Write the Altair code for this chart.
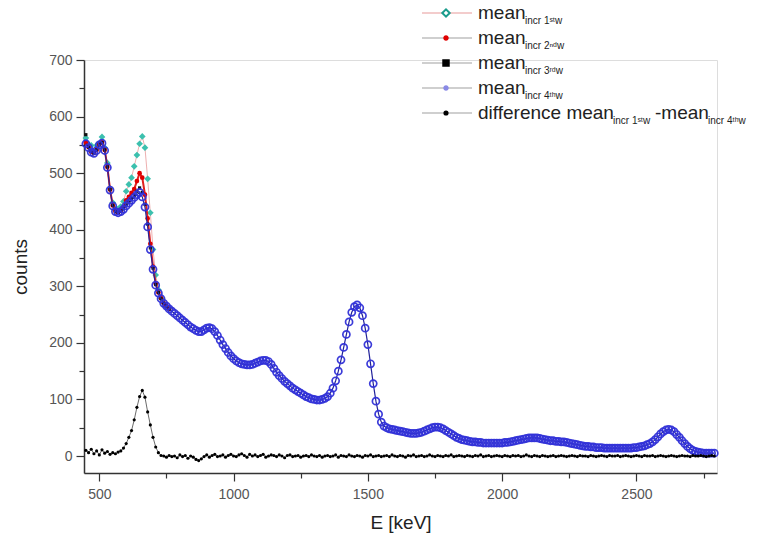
import altair as alt
import pandas as pd

# ---------------- data ----------------
E_all = list(range(450, 2800, 10))

mean4 = [
    552, 545, 537, 535, 540, 550, 553, 540, 510, 470,
    442, 432, 430, 432, 436, 442, 447, 452, 457, 462,
    466, 458, 440, 405, 365, 330, 302, 288, 278, 270,
    265, 260, 256, 252, 248, 244, 240, 236, 232, 228,
    225, 222, 220, 220, 223, 226, 227, 225, 220, 213,
    205, 197, 190, 183, 177, 172, 168, 165, 163, 162,
    161, 161, 162, 164, 166, 168, 169, 169, 167, 162,
    155, 148, 142, 137, 132, 128, 124, 120, 117, 114,
    111, 108, 105, 103, 101, 100, 99, 99, 100, 102,
    105, 111, 120, 133, 150, 170, 192, 215, 237, 254,
    264, 267, 262, 248, 226, 197, 163, 128, 97, 74,
    60, 53, 50, 48, 47, 46, 45, 44, 43, 42,
    41, 40, 40, 40, 41, 42, 44, 46, 48, 50,
    51, 51, 50, 48, 45, 42, 39, 36, 33, 31,
    29, 28, 27, 26, 25, 25, 24, 24, 23, 23,
    23, 23, 23, 23, 23, 23, 24, 24, 25, 26,
    27, 28, 29, 30, 31, 32, 32, 32, 32, 31,
    30, 29, 28, 27, 27, 26, 26, 25, 25, 24,
    23, 22, 21, 20, 19, 18, 17, 17, 16, 16,
    15, 15, 15, 14, 14, 14, 14, 14, 14, 14,
    14, 14, 14, 14, 15, 15, 16, 17, 18, 20,
    22, 25, 29, 34, 39, 43, 46, 47, 46, 43,
    38, 33, 27, 22, 17, 13, 10, 8, 7, 6,
    5, 5, 5, 5, 5,
]

difference = [
    10, 6, 12, 4, 9, 2, 11, 5, 8, 3,
    6, 4, 7, 9, 14, 22, 33, 45, 64, 86,
    105, 116, 104, 78, 55, 33, 16, 6, 1, 0,
    -2, 1, -1, 0, -3, 2, -1, 1, -4, 0,
    -2, -6, -8, -5, -1, 2, -2, 1, 3, -1,
    0, 2, -2, 1, 3, 0, -1, 2, 4, 1,
    -2, 3, 0, 2, -1, 1, 3, -2, 0, 2,
    1, -1, 2, 0, -3, 1, 2, -1, 0, 1,
    -2, 0, 1, -1, 2, 0, -1, 1, -2, 0,
    1, -1, 0, 2, -2, 1, 0, -1, 2, 0,
    -1, 1, 0, -2, 1, 0, 2, -1, 0, 1,
    -1, 0, 1, -1, 2, 0, -1, 1, 0, -2,
    1, 0, 2, -1, 0, 1, -1, 0, 2, 0,
    -1, 1, 0, -1, 1, 0, 2, -1, 0, 1,
    0, -1, 1, 0, -1, 1, 0, 2, -1, 0,
    1, -1, 0, 1, 0, -1, 1, 0, -1, 1,
    0, 1, -1, 0, 2, 0, -1, 1, 0, -1,
    1, 0, -1, 0, 1, -1, 0, 1, 0, -1,
    0, 1, 0, -1, 1, 0, 0, -1, 1, 0,
    -1, 0, 1, 0, -1, 1, 0, 0, 1, -1,
    0, 1, 0, -1, 0, 1, 0, -1, 1, 0,
    0, 1, -1, 0, 1, 0, -1, 0, 1, 0,
    -1, 0, 1, 0, 0, -1, 1, 0, 0, 1,
    0, -1, 0, 1, 0,
]

E_low = list(range(450, 770, 10))
mean1 = [
    562, 551, 549, 539, 549, 552, 564, 545, 518, 473,
    448, 436, 437, 441, 450, 468, 480, 492, 512, 532,
    552, 565, 545, 490, 430, 365, 320, 294, 279, 270,
    263, 261,
]
mean2 = [
    554, 546, 538, 536, 541, 551, 555, 541, 511, 471,
    443, 433, 431, 434, 440, 452, 458, 465, 472, 486,
    500, 492, 462, 420, 375, 335, 305, 289, 279, 270,
    265, 260,
]
mean3 = [
    568, 546, 538, 535, 541, 551, 554, 541, 511, 471,
    443, 432, 430, 433, 437, 444, 449, 455, 461, 468,
    474, 466, 445, 410, 368, 332, 303, 289, 278, 270,
    265, 260,
]

x_major = [500, 1000, 1500, 2000, 2500]
x_minor = [750, 1250, 1750, 2250, 2750]
y_major = [0, 100, 200, 300, 400, 500, 600, 700]
y_minor = [50, 150, 250, 350, 450, 550, 650]

# legend content
leg_main = ["mean", "mean", "mean", "mean", "difference mean"]
leg_sub = ["incr 1ˢᵗw", "incr 2ⁿᵈw", "incr 3ʳᵈw", "incr 4ᵗʰw", "incr 1ˢᵗw"]

# ---------------- tables ----------------
df_low = pd.DataFrame({"E": E_low, "m1": mean1, "m2": mean2, "m3": mean3})
df_all = pd.DataFrame({"E": E_all, "m4": mean4, "d": difference})

FONT = "Liberation Sans"
XS = alt.Scale(domain=[443, 2800], nice=False, zero=False)
YS = alt.Scale(domain=[-30, 700], nice=False, zero=False)

def X(axis=None):
    return alt.X("E:Q", scale=XS, axis=axis)

def Y(field, axis=None):
    return alt.Y(f"{field}:Q", scale=YS, axis=axis)

common_axis = dict(
    domainColor="#333333", domainWidth=1.5, tickColor="#333333", tickWidth=1.2,
    labelFont=FONT, labelColor="#555555", labelFontSize=14, grid=False,
    titleFont=FONT, titleFontWeight="normal", titleColor="#222222", titleFontSize=19,
)

x_axis_major = alt.Axis(values=x_major, tickSize=8, labelPadding=6, title="E [keV]",
                        titlePadding=12, orient="bottom", format="d", **common_axis)
y_axis_major = alt.Axis(values=y_major, tickSize=8, labelPadding=4, title="counts",
                        titlePadding=18, orient="left", format="d", **common_axis)
x_axis_minor = alt.Axis(values=x_minor, tickSize=5, labels=False, domain=False, title=None,
                        orient="bottom", tickColor="#333333", tickWidth=1.2, grid=False)
y_axis_minor = alt.Axis(values=y_minor, tickSize=5, labels=False, domain=False, title=None,
                        orient="left", tickColor="#333333", tickWidth=1.2, grid=False)

base_low = alt.Chart(df_low)
base_all = alt.Chart(df_all)

# series 1: cyan diamonds, pink line
m1_line = base_low.mark_line(color="#e89a9a", strokeWidth=0.8).encode(x=X(), y=Y("m1"))
m1_pts = base_low.mark_point(shape="diamond", filled=True, color="#3cc0ae", size=45,
                             opacity=1).encode(x=X(), y=Y("m1"))
# series 2: red dots
m2_line = base_low.mark_line(color="#e02020", strokeWidth=2).encode(x=X(), y=Y("m2"))
m2_pts = base_low.mark_point(shape="circle", filled=True, color="#e00000", size=22,
                             opacity=1).encode(x=X(), y=Y("m2"))
# series 3: black squares
m3_pts = base_low.mark_point(shape="square", filled=True, color="#111111", size=10,
                             opacity=1).encode(x=X(), y=Y("m3"))
# series 4: blue
m4_line = base_all.mark_line(color="#22229a", strokeWidth=1.2).encode(x=X(), y=Y("m4"))
m4_pts = base_all.mark_point(shape="circle", filled=False, color="#3232d8", size=50,
                             strokeWidth=1.7, opacity=0.95).encode(x=X(), y=Y("m4"))
# difference: black dots
d_line = base_all.mark_line(color="#444444", strokeWidth=0.8).encode(x=X(), y=Y("d"))
d_pts = base_all.mark_point(shape="circle", filled=True, color="#000000", size=10,
                            opacity=1).encode(x=X(), y=Y("d"))

# axes layers (transparent points carrying the axes)
ax_major = base_all.mark_point(opacity=0).encode(x=X(x_axis_major), y=Y("m4", y_axis_major))
ax_minor = base_all.mark_point(opacity=0).encode(x=X(x_axis_minor), y=Y("m4", y_axis_minor))

# ---------------- manual legend (pixel positions relative to plot origin) ----------------
rows_y = [-47, -22, 3, 28, 53]
leg_lines = pd.DataFrame({
    "x1": [338] * 5, "x2": [388] * 5, "y": rows_y,
    "c": ["#e89a9a", "#a0a0a0", "#a0a0a0", "#a0a0a0", "#a0a0a0"],
})
leg_syms = pd.DataFrame({
    "x": [362] * 5, "y": rows_y,
    "shape": ["diamond", "circle", "square", "circle", "circle"],
    "fill": ["#ffffff", "#e00000", "#000000", "#8a8ae6", "#000000"],
    "stroke": ["#1a9c8c", "#e00000", "#000000", "#8a8ae6", "#000000"],
    "size": [55, 12, 30, 12, 10],
})
main_txt = pd.DataFrame({"x": [394] * 5, "y": rows_y, "t": leg_main})
sub_txt = pd.DataFrame({
    "x": [441, 441, 441, 441, 529],
    "y": [r + 8 for r in rows_y],
    "t": leg_sub,
})
extra_main = pd.DataFrame({"x": [571], "y": [rows_y[4]], "t": ["-mean"]})
extra_sub = pd.DataFrame({"x": [624], "y": [rows_y[4] + 8], "t": ["incr 4ᵗʰw"]})

lg_lines = alt.Chart(leg_lines).mark_rule(strokeWidth=1.2).encode(
    x=alt.X("x1:Q", scale=None, axis=None), x2="x2:Q",
    y=alt.Y("y:Q", scale=None, axis=None), color=alt.Color("c:N", scale=None))
lg_syms = alt.Chart(leg_syms).mark_point(filled=True, opacity=1, strokeWidth=2).encode(
    x=alt.X("x:Q", scale=None, axis=None), y=alt.Y("y:Q", scale=None, axis=None),
    shape=alt.Shape("shape:N", scale=None), fill=alt.Fill("fill:N", scale=None),
    stroke=alt.Stroke("stroke:N", scale=None), size=alt.Size("size:Q", scale=None))

def txt(df, size):
    return alt.Chart(df).mark_text(align="left", baseline="middle", font=FONT,
                                   fontSize=size, color="#222222").encode(
        x=alt.X("x:Q", scale=None, axis=None), y=alt.Y("y:Q", scale=None, axis=None),
        text="t:N")

lg = alt.layer(lg_lines, lg_syms, txt(main_txt, 19), txt(sub_txt, 10),
               txt(extra_main, 19), txt(extra_sub, 10))

chart = alt.layer(
    ax_major, ax_minor,
    m1_line, m1_pts, m2_line, m2_pts, m3_pts, m4_line, m4_pts, d_line, d_pts,
    lg,
).resolve_axis(x="independent", y="independent").properties(
    width=633, height=413,
    autosize=alt.AutoSizeParams(type="none"),
    padding={"left": 84, "top": 60, "right": 46, "bottom": 71},
).configure_view(stroke=None).configure(background="white")

chart.save("out.html", embed_options={"renderer": "svg", "actions": False})
